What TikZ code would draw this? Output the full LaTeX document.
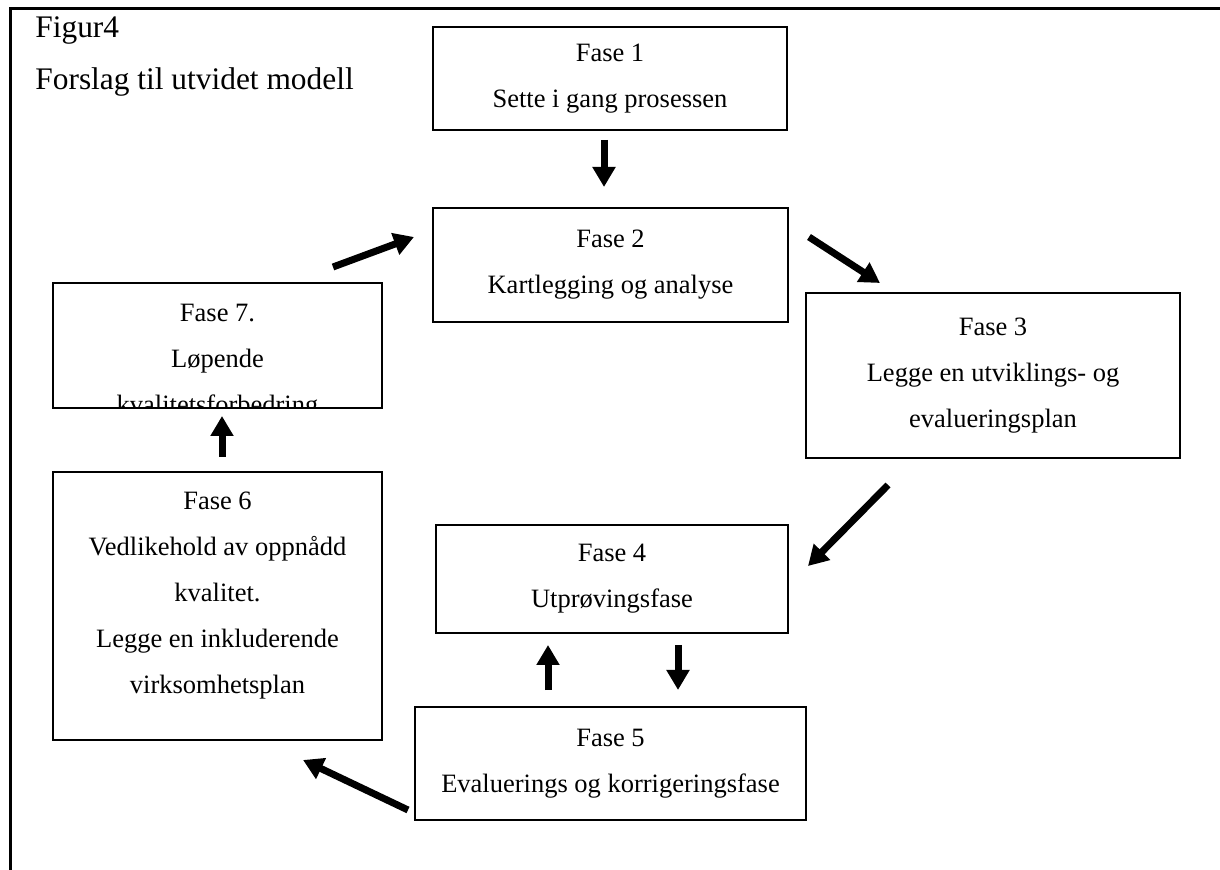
\documentclass[tikz,border=0pt]{standalone}
\usepackage{fontspec}
\setmainfont{Liberation Serif}
\usetikzlibrary{arrows.meta}
\begin{document}
\begin{tikzpicture}[x=0.5pt,y=-0.5pt,
  fase/.style={draw,line width=0.9pt,align=center,inner sep=0pt,font=\fontsize{13.25}{23}\selectfont},
  tekst/.style={align=center,inner sep=0pt,font=\fontsize{13.25}{23}\selectfont},
  tittel/.style={anchor=base west,inner sep=0pt,font=\fontsize{15.7}{18}\selectfont},
  pil/.style={line width=3.5pt,-{Triangle[length=10pt,width=11pt]}}]
  \useasboundingbox (0,0) rectangle (1220,870);
  \draw[line width=1.5pt] (1220,9) -- (10,9) -- (10,870);
  \node[tittel] (fig) at (35,38) {Figur4};
  \node[tittel] (tit) at (35,90) {Forslag til utvidet modell};
  % boksene
  \node[fase,minimum width=177pt,minimum height=51.5pt] (f1) at (610,78.5) {Fase 1\\Sette i gang prosessen};
  \node[fase,minimum width=177.5pt,minimum height=57pt] (f2) at (610.5,265) {Fase 2\\Kartlegging og analyse};
  \node[fase,minimum width=187pt,minimum height=82.5pt] (f3) at (993,375.5) {Fase 3\\Legge en utviklings- og\\evalueringsplan};
  \node[fase,minimum width=176pt,minimum height=54pt] (f4) at (612,579) {Fase 4\\Utprøvingsfase};
  \node[fase,minimum width=195.5pt,minimum height=56.5pt] (f5) at (610.5,763.5) {Fase 5\\Evaluerings og korrigeringsfase};
  \node[fase,text depth=13pt,minimum width=164.5pt,minimum height=134pt] (f6) at (217.5,606) {Fase 6\\Vedlikehold av oppnådd\\kvalitet.\\Legge en inkluderende\\virksomhetsplan};
  \node[fase,minimum width=164.5pt,minimum height=62.5pt] (f7) at (217.5,345.5) {};
  \begin{scope}
    \clip (53,283) rectangle (382,408);
    \node[tekst] (f7t) at (217.5,362) {Fase 7.\\Løpende\\kvalitetsforbedring};
  \end{scope}
  % pilene
  \coordinate (a1) at (604,140); \coordinate (b1) at (604,187);
  \coordinate (a2) at (809,237); \coordinate (b2) at (880,283);
  \coordinate (a3) at (888,485); \coordinate (b3) at (808,566);
  \coordinate (a4) at (678,645); \coordinate (b4) at (678,690);
  \coordinate (a5) at (548,690); \coordinate (b5) at (548,645);
  \coordinate (a6) at (408,810); \coordinate (b6) at (303,760);
  \coordinate (a7) at (222,457); \coordinate (b7) at (222,416);
  \coordinate (a8) at (333,267); \coordinate (b8) at (414,237);
  \draw[pil] (a1) -- (b1);
  \draw[pil] (a2) -- (b2);
  \draw[pil] (a3) -- (b3);
  \draw[pil] (a4) -- (b4);
  \draw[pil] (a5) -- (b5);
  \draw[pil] (a6) -- (b6);
  \draw[pil] (a7) -- (b7);
  \draw[pil] (a8) -- (b8);
\end{tikzpicture}
\end{document}
